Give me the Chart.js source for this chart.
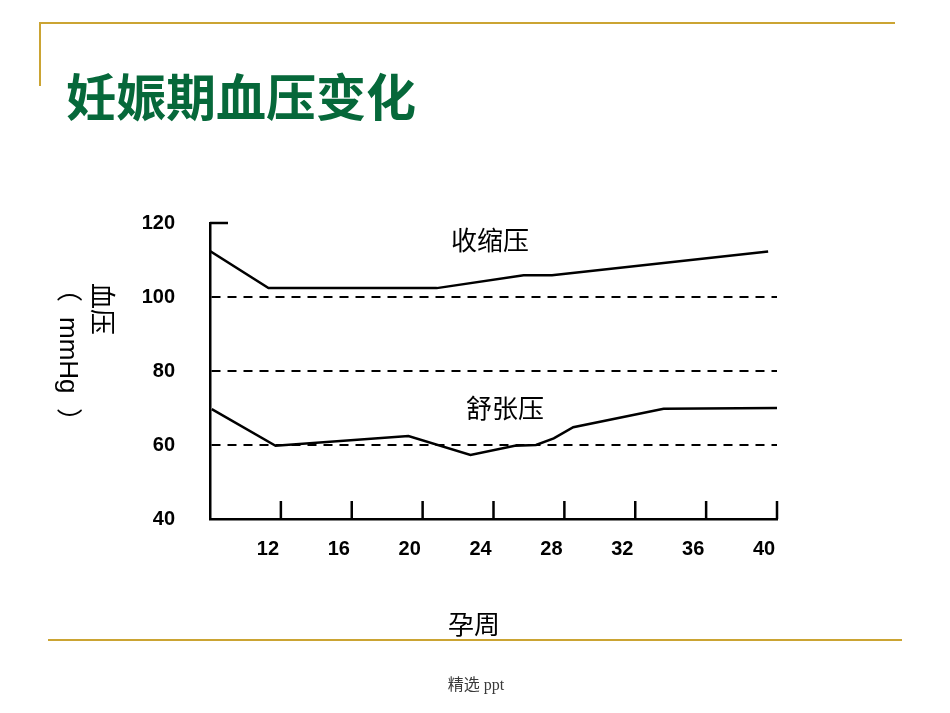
<!DOCTYPE html>
<html lang="zh">
<head>
<meta charset="utf-8">
<title>妊娠期血压变化</title>
<script src="https://cdn.jsdelivr.net/npm/chart.js@4/dist/chart.umd.min.js"></script>
<style>
  html, body { margin: 0; padding: 0; background: #fff; }
  #seite {
    position: relative; width: 950px; height: 713px; overflow: hidden;
    font-family: 'Liberation Sans', Arial, 'Noto Sans CJK SC', sans-serif;
  }
  #diagramm { position: absolute; left: 0; top: 0; }
  .linie { position: absolute; background: #cba433; }
  .text { position: absolute; white-space: nowrap; line-height: 1; color: #000; }
  #titel {
    left: 66px; top: 69px; font-size: 50px; font-weight: 700; color: #06683a;
    font-family: 'Noto Sans CJK SC', sans-serif;
  }
  .mitte { transform: translate(-50%, -50%); }
  #yTitel {
    left: 52px; top: 283px; font-size: 26px; line-height: 33px;
    writing-mode: vertical-rl; text-orientation: sideways;
  }
  #yTitel .kl-auf { margin-inline-start: -7px; padding-inline-end: 15px; }
  #yTitel .kl-zu  { padding-inline-start: 14px; }
  #fuss {
    font-family: 'Liberation Serif', 'Noto Sans CJK SC', serif;
    font-size: 16px; color: #3a3a3a;
  }
</style>
</head>
<body>
<div id="seite">
  <canvas id="diagramm" width="950" height="713"></canvas>

  <!-- goldene Rahmenlinien der Folie -->
  <div class="linie" style="left:40px; top:22px; width:855px; height:2px;"></div>
  <div class="linie" style="left:39px; top:22px; width:2px; height:64px;"></div>
  <div class="linie" style="left:48px; top:639px; width:854px; height:2px;"></div>

  <div class="text" id="titel">妊娠期血压变化</div>
  <div class="text mitte" style="left:490px; top:241px; font-size:26px;">收缩压</div>
  <div class="text mitte" style="left:505px; top:409px; font-size:26px;">舒张压</div>
  <div class="text mitte" style="left:474px; top:625px; font-size:26px;">孕周</div>
  <div class="text" id="yTitel">血压<br><span class="kl-auf">（</span>mmHg<span class="kl-zu">）</span></div>
  <div class="text mitte" id="fuss" style="left:476px; top:685px;">精选 ppt</div>
</div>

<script>
'use strict';

// Achsen-Ticks
const X_TICKS = [12, 16, 20, 24, 28, 32, 36, 40];
const Y_TICKS = [40, 60, 80, 100, 120];

// Gestrichelte Referenzlinien
const REF_LINIEN = [60, 80, 100];

// Systolischer Druck (Woche / mmHg)
const SYS_WOCHEN = [8, 11.3, 20.8, 25.7, 27.3, 39.5];
const SYS_WERTE  = [112.4, 102.4, 102.4, 105.9, 105.9, 112.3];

// Diastolischer Druck (Woche / mmHg)
const DIA_WOCHEN = [8.1, 11.7, 19.2, 22.7, 25.2, 26.4, 27.4, 28.5, 33.6, 40];
const DIA_WERTE  = [69.7, 59.8, 62.4, 57.3, 59.8, 60, 61.8, 64.8, 69.8, 70];

function punkte(wochen, werte) {
  return wochen.map((w, i) => ({ x: w, y: werte[i] }));
}

// Kurze Tickstriche nach innen (wie in der Vorlage)
const innenTicks = {
  id: 'innenTicks',
  afterDraw(chart) {
    const ctx = chart.ctx;
    const xs = chart.scales.x;
    const ys = chart.scales.y;
    const laenge = 18;
    ctx.save();
    ctx.strokeStyle = '#000';
    ctx.lineWidth = 2.5;
    ctx.beginPath();
    X_TICKS.forEach(v => {
      const px = xs.getPixelForValue(v);
      ctx.moveTo(px, ys.bottom);
      ctx.lineTo(px, ys.bottom - laenge);
    });
    // nur oben bei 120 ein Stummel, die anderen liegen unter den Strichlinien
    const py = ys.getPixelForValue(Y_TICKS[Y_TICKS.length - 1]);
    ctx.moveTo(xs.left, py);
    ctx.lineTo(xs.left + laenge, py);
    ctx.stroke();
    ctx.restore();
  }
};

const linienStil = {
  borderColor: '#000',
  borderWidth: 2.5,
  pointRadius: 0,
  fill: false,
  tension: 0,
};

const tickSchrift = { family: "'Liberation Sans', Arial, sans-serif", size: 20, weight: 'bold' };

new Chart(document.getElementById('diagramm'), {
  type: 'line',
  data: {
    datasets: [
      { label: '收缩压', data: punkte(SYS_WOCHEN, SYS_WERTE), ...linienStil },
      { label: '舒张压', data: punkte(DIA_WOCHEN, DIA_WERTE), ...linienStil },
    ],
  },
  options: {
    responsive: false,
    animation: false,
    layout: { padding: { left: 0, top: 223, right: 173, bottom: 0 } },
    plugins: {
      legend: { display: false },
      tooltip: { enabled: false },
    },
    scales: {
      x: {
        type: 'linear',
        min: 8,
        max: 40,
        afterBuildTicks(scale) { scale.ticks = X_TICKS.map(v => ({ value: v })); },
        afterFit(scale) { scale.height = 194; },
        grid: { display: false, drawTicks: false },
        border: { display: true, color: '#000', width: 2.5 },
        ticks: {
          color: '#000',
          font: tickSchrift,
          padding: 18,
          labelOffset: -13,
          maxRotation: 0,
        },
      },
      y: {
        min: 40,
        max: 120,
        afterBuildTicks(scale) { scale.ticks = Y_TICKS.map(v => ({ value: v })); },
        afterFit(scale) { scale.width = 210; },
        grid: {
          drawTicks: false,
          color: ctx => REF_LINIEN.includes(ctx.tick && ctx.tick.value) ? '#000' : 'rgba(0,0,0,0)',
          lineWidth: 2,
        },
        border: { display: true, color: '#000', width: 2.5, dash: [9, 7] },
        ticks: {
          color: '#000',
          font: tickSchrift,
          padding: 35,
        },
      },
    },
  },
  plugins: [innenTicks],
});
</script>
</body>
</html>
